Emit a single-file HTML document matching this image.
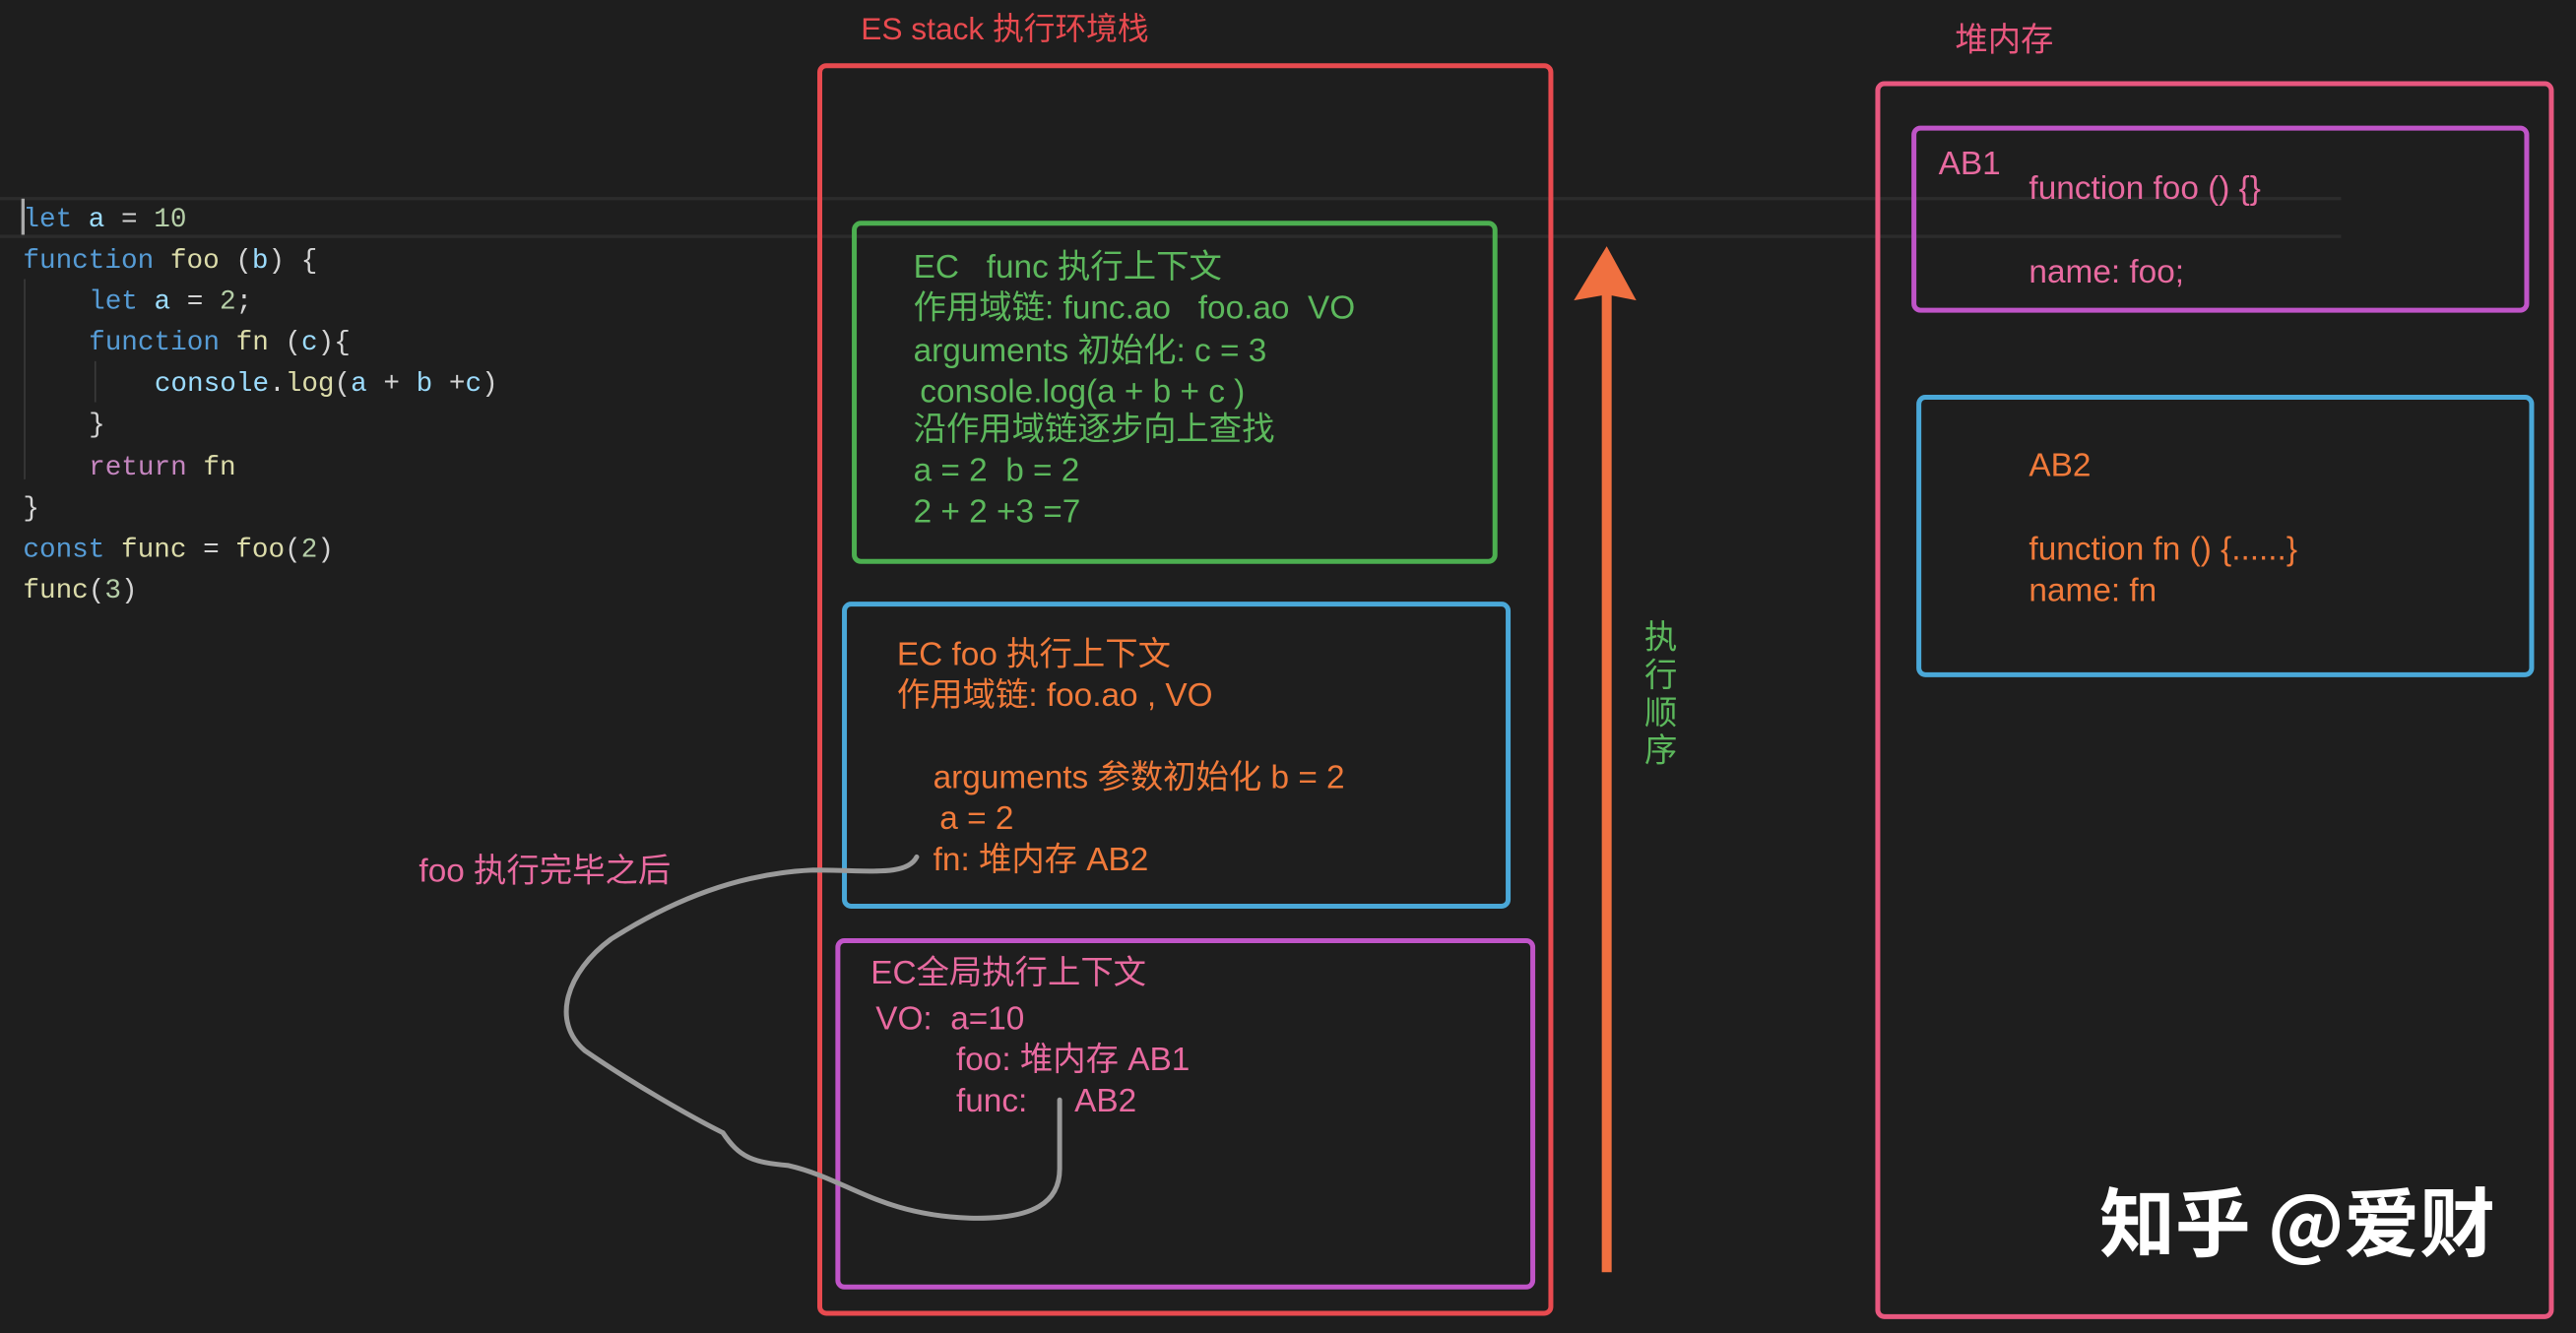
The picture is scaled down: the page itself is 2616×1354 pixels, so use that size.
<!DOCTYPE html>
<html><head><meta charset="utf-8"><style>
html,body{margin:0;padding:0;background:#1e1e1e;}
svg{display:block;}
text{font-family:"Liberation Sans","Noto Sans CJK SC",sans-serif;white-space:pre;}
.c text{font-family:"Liberation Mono","DejaVu Sans Mono",monospace;font-size:16.6px;}
</style></head><body>
<svg width="2616" height="1354" viewBox="0 0 1568 812" preserveAspectRatio="none" xmlns="http://www.w3.org/2000/svg" xml:space="preserve">
<rect width="1568" height="812" fill="#1e1e1e"/>
<line x1="0" y1="121" x2="1425" y2="121" stroke="#2c2c2c" stroke-width="2"/>
<line x1="0" y1="144" x2="1425" y2="144" stroke="#2c2c2c" stroke-width="2"/>
<rect x="13" y="121" width="2" height="22" fill="#aaa"/>
<line x1="15" y1="170" x2="15" y2="292" stroke="#3a3a3a"/>
<line x1="58" y1="220" x2="58" y2="245" stroke="#3a3a3a"/>
<g class="c">
<text x="14" y="138"><tspan fill="#569cd6">let</tspan><tspan fill="#9cdcfe"> a</tspan><tspan fill="#d4d4d4"> = </tspan><tspan fill="#b5cea8">10</tspan></text>
<text x="14" y="163"><tspan fill="#569cd6">function</tspan><tspan fill="#dcdcaa"> foo</tspan><tspan fill="#d4d4d4"> (</tspan><tspan fill="#9cdcfe">b</tspan><tspan fill="#d4d4d4">) {</tspan></text>
<text x="54" y="188"><tspan fill="#569cd6">let</tspan><tspan fill="#9cdcfe"> a</tspan><tspan fill="#d4d4d4"> = </tspan><tspan fill="#b5cea8">2</tspan><tspan fill="#d4d4d4">;</tspan></text>
<text x="54" y="213"><tspan fill="#569cd6">function</tspan><tspan fill="#dcdcaa"> fn</tspan><tspan fill="#d4d4d4"> (</tspan><tspan fill="#9cdcfe">c</tspan><tspan fill="#d4d4d4">){</tspan></text>
<text x="94" y="238"><tspan fill="#9cdcfe">console</tspan><tspan fill="#d4d4d4">.</tspan><tspan fill="#dcdcaa">log</tspan><tspan fill="#d4d4d4">(</tspan><tspan fill="#9cdcfe">a</tspan><tspan fill="#d4d4d4"> + </tspan><tspan fill="#9cdcfe">b</tspan><tspan fill="#d4d4d4"> +</tspan><tspan fill="#9cdcfe">c</tspan><tspan fill="#d4d4d4">)</tspan></text>
<text x="54" y="263" fill="#d4d4d4">}</text>
<text x="54" y="289"><tspan fill="#c586c0">return</tspan><tspan fill="#dcdcaa"> fn</tspan></text>
<text x="14" y="314" fill="#d4d4d4">}</text>
<text x="14" y="339"><tspan fill="#569cd6">const</tspan><tspan fill="#dcdcaa"> func</tspan><tspan fill="#d4d4d4"> = </tspan><tspan fill="#dcdcaa">foo</tspan><tspan fill="#d4d4d4">(</tspan><tspan fill="#b5cea8">2</tspan><tspan fill="#d4d4d4">)</tspan></text>
<text x="14" y="364"><tspan fill="#dcdcaa">func</tspan><tspan fill="#d4d4d4">(</tspan><tspan fill="#b5cea8">3</tspan><tspan fill="#d4d4d4">)</tspan></text>
</g>

<text x="524" y="24" fill="#e84a4f" font-size="19">ES stack 执行环境栈</text>
<rect x="499" y="40" width="445" height="760" rx="4" fill="none" stroke="#e84a4f" stroke-width="3"/>

<rect x="520" y="136" width="390" height="206" rx="4" fill="none" stroke="#4caf50" stroke-width="3"/>
<g fill="#5cb85c" font-size="20">
<text x="556" y="169">EC   func 执行上下文</text>
<text x="556" y="194">作用域链: func.ao   foo.ao  VO</text>
<text x="556" y="220">arguments 初始化: c = 3</text>
<text x="560" y="245">console.log(a + b + c )</text>
<text x="556" y="268">沿作用域链逐步向上查找</text>
<text x="556" y="293">a = 2  b = 2</text>
<text x="556" y="318">2 + 2 +3 =7</text>
</g>

<rect x="514" y="368" width="404" height="184" rx="4" fill="none" stroke="#4aa8d8" stroke-width="3"/>
<g fill="#f07a3a" font-size="20">
<text x="546" y="405">EC foo 执行上下文</text>
<text x="546" y="430">作用域链: foo.ao , VO</text>
<text x="568" y="480">arguments 参数初始化 b = 2</text>
<text x="572" y="505">a = 2</text>
<text x="568" y="530">fn: 堆内存 AB2</text>
</g>

<rect x="510" y="573" width="423" height="211" rx="4" fill="none" stroke="#c054c8" stroke-width="3"/>
<g fill="#e86aa0" font-size="20">
<text x="530" y="599">EC全局执行上下文</text>
<text x="533" y="627">VO:  a=10</text>
<text x="582" y="652">foo: 堆内存 AB1</text>
<text x="582" y="677">func:</text>
<text x="654" y="677">AB2</text>
</g>

<text x="255" y="537" fill="#e86aa0" font-size="20">foo 执行完毕之后</text>
<path d="M558,522 C552,534 530,530 495,530 C450,532 410,548 372,572 C345,592 335,622 356,640 C385,660 420,680 440,690 C450,705 458,708 480,710 C515,718 535,740 590,742 C630,743 645,732 645,712 L645,670" fill="none" stroke="#9a9a9a" stroke-width="3" stroke-linecap="round"/>

<path d="M975,775 L975,180 L958,183 L978,150 L996,183 L981,180 L981,775 Z" fill="#f07040"/>
<g fill="#5cb85c" font-size="20">
<text x="1001" y="395">执</text>
<text x="1001" y="418">行</text>
<text x="1001" y="441">顺</text>
<text x="1001" y="464">序</text>
</g>

<text x="1190" y="31" fill="#e8577f" font-size="20">堆内存</text>
<rect x="1143" y="51" width="410" height="751" rx="4" fill="none" stroke="#e8577f" stroke-width="3"/>

<rect x="1165" y="78" width="373" height="111" rx="4" fill="none" stroke="#c054c8" stroke-width="3"/>
<g fill="#e86aa0" font-size="20">
<text x="1180" y="106">AB1</text>
<text x="1235" y="121">function foo () {}</text>
<text x="1235" y="172">name: foo;</text>
</g>

<rect x="1168" y="242" width="373" height="169" rx="4" fill="none" stroke="#4aa8d8" stroke-width="3"/>
<g fill="#f07a3a" font-size="20">
<text x="1235" y="290">AB2</text>
<text x="1235" y="341">function fn () {......}</text>
<text x="1235" y="366">name: fn</text>
</g>

<text x="1278" y="762" fill="#ffffff" font-size="46" font-weight="bold" style="font-family:'Noto Sans CJK SC','Liberation Sans',sans-serif">知乎 @爱财</text>
</svg>
</body></html>
